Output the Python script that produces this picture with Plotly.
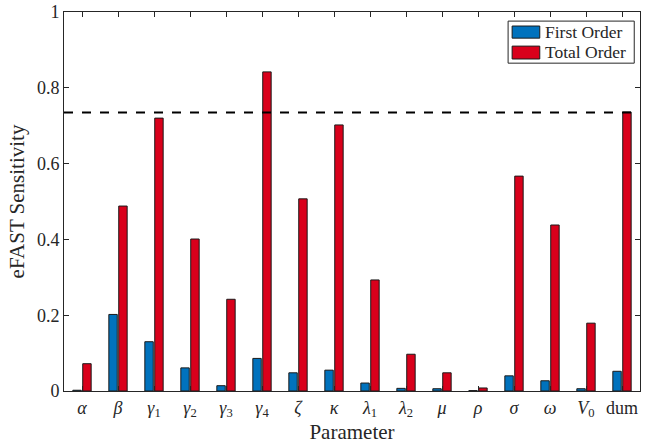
import plotly.graph_objects as go

params = ["<i>α</i>", "<i>β</i>", "<i>γ</i><sub>1</sub>", "<i>γ</i><sub>2</sub>", "<i>γ</i><sub>3</sub>",
          "<i>γ</i><sub>4</sub>", "<i>ζ</i>", "<i>κ</i>", "<i>λ</i><sub>1</sub>", "<i>λ</i><sub>2</sub>",
          "<i>μ</i>", "<i>ρ</i>", "<i>σ</i>", "<i>ω</i>", "<i>V</i><sub>0</sub>", "dum"]
first_order = [0.002, 0.202, 0.130, 0.061, 0.014, 0.086, 0.048, 0.055, 0.021, 0.007,
               0.006, 0.001, 0.040, 0.027, 0.006, 0.052]
total_order = [0.072, 0.488, 0.720, 0.401, 0.242, 0.842, 0.507, 0.702, 0.293, 0.097,
               0.048, 0.008, 0.567, 0.438, 0.179, 0.736]
threshold = 0.735
y_ticks = [0, 0.2, 0.4, 0.6, 0.8, 1]
y_tick_labels = ["0", "0.2", "0.4", "0.6", "0.8", "1"]
series_names = ["First Order", "Total Order"]
series_colors = ["#0072BD", "#D9001B"]

font = "Liberation Serif"
ink = "#262626"
x = list(range(len(params)))

fig = go.Figure()
for name, vals, col in zip(series_names, [first_order, total_order], series_colors):
    fig.add_trace(go.Bar(x=x, y=vals, name=name, showlegend=False,
                         marker=dict(color=col, line=dict(color="#1a1a1a", width=1))))

fig.add_shape(type="line", xref="paper", yref="y", x0=0, x1=1, y0=threshold, y1=threshold,
              line=dict(color="black", width=2, dash="dash"))

# custom legend (box, swatches, labels)
fig.add_shape(type="rect", xref="paper", yref="paper", x0=0.771, x1=0.990, y0=0.865, y1=0.976,
              line=dict(color=ink, width=1), fillcolor="white", layer="above")
sw_y = [(0.931, 0.963), (0.876, 0.910)]
txt_y = [0.947, 0.894]
for name, col, (y0, y1), ty in zip(series_names, series_colors, sw_y, txt_y):
    fig.add_shape(type="rect", xref="paper", yref="paper", x0=0.778, x1=0.826, y0=y0, y1=y1,
                  line=dict(color="#1a1a1a", width=1), fillcolor=col, layer="above")
    fig.add_annotation(xref="paper", yref="paper", x=0.831, y=ty, text=name, showarrow=False,
                       xanchor="left", yanchor="middle",
                       font=dict(family=font, size=17.5, color=ink))

fig.update_layout(
    width=647, height=444,
    margin=dict(l=64, r=7, t=12, b=53),
    paper_bgcolor="white", plot_bgcolor="white",
    barmode="group", bargap=0.45, bargroupgap=0.15,
    font=dict(family=font, size=18, color=ink),
    showlegend=False,
    xaxis=dict(tickmode="array", tickvals=x, ticktext=params, range=[-0.5, len(params) - 0.5],
               showgrid=False, zeroline=False, showline=True, linecolor=ink, linewidth=1,
               mirror="ticks", ticks="inside", ticklen=5, tickcolor=ink, automargin=False,
               title=dict(text="Parameter", font=dict(size=21), standoff=0),
               tickfont=dict(size=18)),
    yaxis=dict(range=[0, 1], tickvals=y_ticks, ticktext=y_tick_labels,
               showgrid=False, zeroline=False, showline=True, linecolor=ink, linewidth=1,
               mirror="ticks", ticks="inside", ticklen=5, tickcolor=ink, automargin=False,
               ticklabeloverflow="allow",
               title=dict(text="eFAST Sensitivity", font=dict(size=21), standoff=6),
               tickfont=dict(size=18)),
)

fig.write_html("out.html", config={"displayModeBar": False},
               post_script="document.body.style.margin='0';")
